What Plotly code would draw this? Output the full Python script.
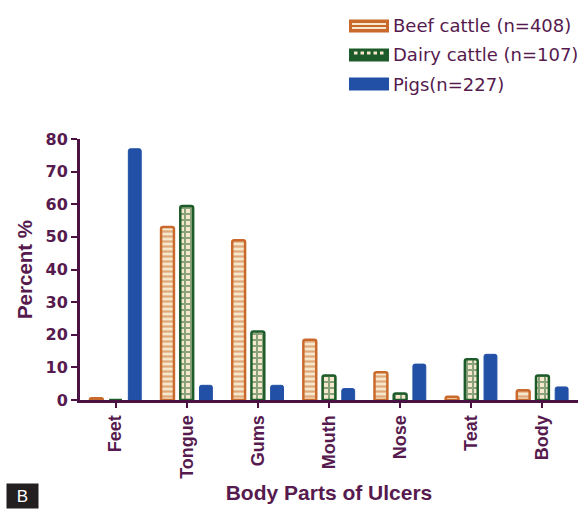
import plotly.graph_objects as go

categories = ["Feet", "Tongue", "Gums", "Mouth", "Nose", "Teat", "Body"]
beef = [0.5, 53, 49, 18.5, 8.5, 1, 3]
dairy = [0, 59.5, 21, 7.5, 2, 12.5, 7.5]
pigs = [77, 4.5, 4.5, 3.5, 11, 14, 4]
series_names = ["Beef cattle (n=408)", "Dairy cattle (n=107)", "Pigs(n=227)"]
y_ticks = [0, 10, 20, 30, 40, 50, 60, 70, 80]

ORANGE = "#c96a2c"
GREEN = "#1d5c2a"
BLUE = "#2150a6"
CREAM = "#f6e8cc"
AXIS = "#4a1242"
TEXT = "#561a4e"

W, H = 584, 509
ML, MR, MT, MB = 80, 6, 139, 109
PW, PH = W - ML - MR, H - MT - MB


def px(x):
    return (x - ML) / PW


def py(y):
    return (H - MB - y) / PH


fig = go.Figure()
fig.add_trace(go.Bar(
    x=categories, y=beef, name=series_names[0],
    marker=dict(color=CREAM, line=dict(color=ORANGE, width=2.5),
                pattern=dict(shape="-", fgcolor=ORANGE, bgcolor=CREAM, size=5, solidity=0.45)),
))
fig.add_trace(go.Bar(
    x=categories, y=dairy, name=series_names[1],
    marker=dict(color=CREAM, line=dict(color=GREEN, width=2.5),
                pattern=dict(shape="+", fgcolor=GREEN, bgcolor=CREAM, size=6, solidity=0.55)),
))
fig.add_trace(go.Bar(
    x=categories, y=pigs, name=series_names[2],
    marker=dict(color=BLUE, line=dict(color=BLUE, width=1)),
))

fig.update_layout(
    width=W, height=H,
    margin=dict(l=ML, r=MR, t=MT, b=MB),
    paper_bgcolor="white", plot_bgcolor="white",
    barmode="group", bargap=0.19, bargroupgap=0.33,
    barcornerradius=2,
    font=dict(family="Arial, Liberation Sans, sans-serif", color=TEXT),
    showlegend=False,
)
fig.update_xaxes(
    showline=True, linecolor=AXIS, linewidth=3,
    ticks="outside", ticklen=5, tickwidth=2, tickcolor=AXIS,
    tickangle=-90,
    tickvals=categories, ticktext=[f"<b>{c}</b>" for c in categories],
    tickfont=dict(size=18, color=TEXT),
    title=dict(text="<b>Body Parts of Ulcers</b>", font=dict(size=21, color=TEXT), standoff=8),
    showgrid=False,
)
fig.update_yaxes(
    range=[0, 80], tickvals=y_ticks, ticktext=[f"<b>{v}</b>" for v in y_ticks],
    showline=True, linecolor=AXIS, linewidth=3,
    ticks="outside", ticklen=6, tickwidth=2, tickcolor=AXIS,
    tickfont=dict(size=16, color=TEXT, family="DejaVu Sans, Arial"),
    title=dict(text="<b>Percent %</b>", font=dict(size=20.5, color=TEXT), standoff=8),
    showgrid=False, zeroline=False,
)

# custom legend (wide swatches like the reference)
rows = [26, 55, 84]
sx0, sx1 = 349, 389
for i, (name, yc) in enumerate(zip(series_names, rows)):
    y0, y1 = yc - 6.5, yc + 6.5
    fill = [ORANGE, GREEN, BLUE][i]
    fig.add_shape(type="rect", xref="paper", yref="paper",
                  x0=px(sx0), x1=px(sx1), y0=py(y1), y1=py(y0),
                  fillcolor=fill, line=dict(width=0), layer="above")
    if i == 0:
        for yy in (yc - 2, yc + 2):
            fig.add_shape(type="line", xref="paper", yref="paper",
                          x0=px(sx0 + 3), x1=px(sx1 - 3), y0=py(yy), y1=py(yy),
                          line=dict(color=CREAM, width=2), layer="above")
    elif i == 1:
        for k in range(5):
            cx = sx0 + 5 + k * 6.5
            fig.add_shape(type="rect", xref="paper", yref="paper",
                          x0=px(cx), x1=px(cx + 3.5), y0=py(yc - 0.5), y1=py(yc - 3.5),
                          fillcolor=CREAM, line=dict(width=0), layer="above")
    fig.add_annotation(text=name, xref="paper", yref="paper",
                       x=px(sx1 + 2), y=py(yc), xanchor="left", yanchor="middle",
                       showarrow=False,
                       font=dict(size=18, color=TEXT, family="DejaVu Sans, Arial"))

fig.add_annotation(
    text="B", xref="paper", yref="paper", x=px(6), y=py(509),
    xanchor="left", yanchor="bottom", showarrow=False,
    font=dict(size=17, color="white", family="Arial, Liberation Sans"),
    bgcolor="#231f20", width=31, height=24, borderpad=0,
)

fig.write_html("out.html")
